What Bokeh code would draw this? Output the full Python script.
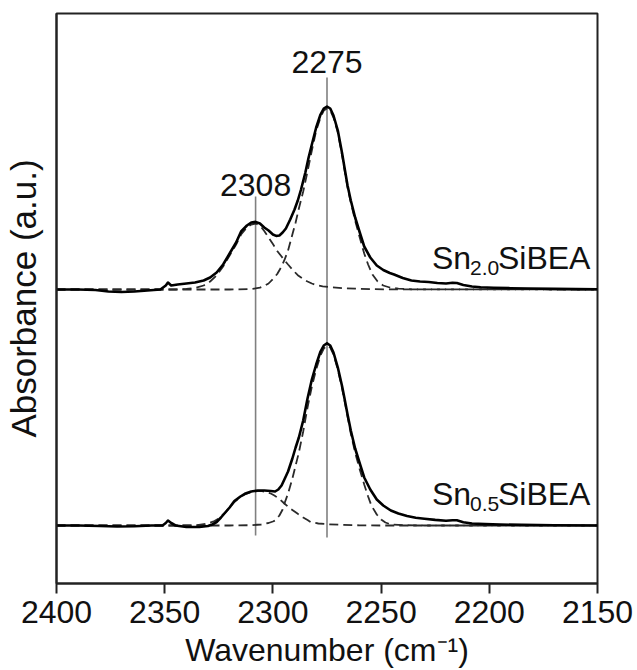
from bokeh.plotting import figure
from bokeh.models import Range1d, FixedTicker, Label
from bokeh.embed import file_html
from bokeh.resources import INLINE

# ---------------- data (absorbance, arbitrary units) ----------------
# Sn2.0SiBEA measured spectrum (height above its baseline)
wn_s20 = [2400, 2390, 2382, 2376, 2370, 2364, 2358, 2352, 2349.5, 2348.5, 2347, 2344, 2340, 2336, 2332,
          2329, 2326, 2323, 2320, 2317, 2314.7, 2312, 2310, 2308, 2306, 2304, 2302, 2300, 2298.5, 2297,
          2295.5, 2294, 2292, 2290, 2288.5, 2287, 2285, 2283.5, 2282, 2280, 2278, 2276.5, 2275, 2273.5,
          2272, 2270, 2268, 2267, 2265.5, 2264, 2262, 2260, 2257.8, 2255, 2252, 2249, 2246, 2244, 2240,
          2236, 2232, 2228, 2224, 2220, 2217, 2215, 2212, 2208, 2204, 2198, 2190, 2182, 2170, 2160, 2150]
ab_s20 = [0, 0, -0.5, -2, -2.5, -2, -1, 0, 4, 7, 4, 5, 6, 7, 9,
          12, 17, 25, 36, 47, 58, 64, 67, 67.6, 66, 62, 59, 55, 53.6, 54,
          57, 61, 70, 80, 89, 100, 117, 132, 145, 162, 175, 181, 183, 181,
          174, 159, 136, 123, 104, 89, 72, 58, 43, 32, 24, 19.5, 16.5, 15, 11.5,
          9, 8, 7.5, 6.5, 6, 6.8, 6.5, 4.5, 3, 2.2, 1.8, 1.3, 1, 0.6, 0.4, 0.3]

# Sn2.0SiBEA fitted component at 2275
wn_s20_a = [2400, 2320, 2310, 2306, 2304, 2302, 2300, 2298, 2296, 2294.7, 2293, 2291, 2289.5, 2288, 2286,
            2284, 2282, 2280, 2278, 2276.5, 2275, 2273.5, 2272, 2270, 2268, 2267, 2265.5, 2264, 2262,
            2260, 2257.8, 2256, 2254, 2251.6, 2249, 2246, 2242, 2236, 2150]
ab_s20_a = [0, 0, 0.5, 1.8, 3.5, 6, 10.5, 15.5, 23, 29.3, 39, 55, 67, 81, 98,
            118, 139, 159, 172, 179, 181, 179, 172, 157, 134, 121, 102, 87, 69,
            53, 36, 25, 15, 8, 4, 2, 0.8, 0.2, 0]

# Sn2.0SiBEA fitted component at 2308
wn_s20_b = [2400, 2345, 2340, 2336, 2332, 2329, 2326, 2323, 2320, 2317, 2314.7, 2312, 2310, 2308, 2306,
            2304, 2302, 2300, 2298, 2296, 2294.7, 2293, 2291, 2288.5, 2286, 2284, 2282, 2280, 2277,
            2273, 2268, 2262, 2255, 2245, 2150]
ab_s20_b = [0, 0, 0.5, 1.5, 4, 8, 14, 23, 34, 45, 55, 62, 65, 66, 64,
            58.5, 52, 45.5, 38.5, 33, 29.3, 25, 20, 14.3, 10.5, 8, 6, 4.5, 3.2,
            2.2, 1.4, 0.8, 0.4, 0.1, 0]

# Sn0.5SiBEA measured spectrum
wn_s05 = [2400, 2390, 2380, 2372, 2364, 2356, 2351, 2349.5, 2348.5, 2347, 2345, 2340, 2334, 2330, 2328,
          2326, 2324, 2322, 2320, 2317.8, 2315, 2313, 2310, 2307, 2304, 2301, 2299, 2297.5, 2296, 2294.7,
          2293, 2291, 2289.5, 2288, 2286, 2284, 2282, 2280, 2278, 2276.5, 2275, 2273.5, 2272, 2270,
          2268, 2267, 2265.5, 2264, 2262, 2260, 2257.8, 2255, 2252, 2249, 2245.5, 2242, 2238, 2234,
          2230, 2225, 2220, 2217, 2215, 2212, 2208, 2202, 2195, 2185, 2170, 2150]
ab_s05 = [0, 0, -0.5, -1, -0.8, 0, 0, 2.5, 5, 2.5, 0, -1.5, -1.5, -0.5, 1,
          3.5, 8, 13, 18, 24.5, 29, 31.7, 34, 35, 35, 34.5, 34, 36, 40, 46,
          54, 67, 78, 88, 105, 127, 146, 161, 174, 180, 182.3, 180, 173, 158,
          139, 128, 111, 95, 77, 63, 48, 36, 26, 20, 15, 12, 9.5, 7.8,
          6.8, 5.6, 4.8, 5.3, 5.2, 3.3, 2, 1.4, 1, 0.6, 0.3, 0]

# Sn0.5SiBEA fitted component at 2275
wn_s05_a = [2400, 2320, 2310, 2305.4, 2302, 2300, 2299, 2297, 2295.5, 2294.7, 2293, 2291, 2289.5, 2288,
            2286, 2284, 2282, 2280, 2278, 2276.5, 2275, 2273.5, 2272, 2270, 2268, 2267, 2265.5, 2264,
            2262, 2260, 2257.8, 2256, 2254.5, 2252, 2250, 2248, 2245.5, 2240, 2230, 2150]
ab_s05_a = [0, 0, 0.3, 1, 2.5, 4, 5, 10, 16, 21.7, 32, 47, 60, 73,
            94, 118, 139, 156, 170, 177, 180, 178, 171, 156, 137, 126, 109, 92,
            73, 57, 41, 29, 20, 11, 6, 3, 1, 0.3, 0, 0]

# Sn0.5SiBEA fitted component at 2308
wn_s05_b = [2400, 2340, 2335, 2330, 2327, 2325, 2322, 2320, 2317.8, 2315, 2313, 2310, 2307, 2305, 2303,
            2301, 2299.3, 2297, 2294.7, 2292, 2290, 2288.5, 2286, 2284, 2282.4, 2279, 2274, 2268,
            2260, 2250, 2150]
ab_s05_b = [0, 0, 0.3, 2, 4.5, 7, 13, 18, 23.5, 28.5, 31, 33.5, 34.5, 34.3, 33.5,
            32, 30, 26.5, 22, 17, 14, 11.7, 8, 5.5, 3.3, 2, 1.2, 0.6,
            0.2, 0, 0]

# vertical offsets of the stacked spectra
offset_s20 = 294
offset_s05 = 58

# band positions marked in the figure
band_pos = [2308, 2275]
band_text = ["2308", "2275"]
band_line_top = [387, 506]
band_line_bottom = [48, 46]
band_text_y = [399, 522]

x_ticks = [2400, 2350, 2300, 2250, 2200, 2150]

FONT = "Liberation Sans"

p = figure(width=637, height=670, output_backend="svg", toolbar_location=None,
           x_range=Range1d(2400, 2150), y_range=Range1d(0, 570),
           min_border_left=55, min_border_right=40, min_border_top=13, min_border_bottom=87)

p.background_fill_color = "white"
p.border_fill_color = "white"
p.outline_line_color = "#222222"
p.outline_line_width = 2
p.xgrid.visible = False
p.ygrid.visible = False

# x axis
p.xaxis.ticker = FixedTicker(ticks=x_ticks)
p.xaxis.minor_tick_line_color = None
p.xaxis.major_tick_in = 0
p.xaxis.major_tick_out = 10
p.xaxis.major_tick_line_width = 2
p.xaxis.major_tick_line_color = "#222222"
p.xaxis.axis_line_width = 2
p.xaxis.axis_line_color = "#222222"
p.xaxis.major_label_text_font = FONT
p.xaxis.major_label_text_font_size = "32px"
p.xaxis.major_label_text_color = "#111111"
p.xaxis.major_label_standoff = 7
p.xaxis.axis_label = "Wavenumber (cm\u207b\u00b9)"
p.xaxis.axis_label_text_font = FONT
p.xaxis.axis_label_text_font_size = "32px"
p.xaxis.axis_label_text_font_style = "normal"
p.xaxis.axis_label_text_color = "#111111"
p.xaxis.axis_label_standoff = 6

# y axis: no ticks, only the title
p.yaxis.ticker = FixedTicker(ticks=[])
p.yaxis.minor_tick_line_color = None
p.yaxis.major_tick_out = 0
p.yaxis.major_tick_in = 0
p.yaxis.major_label_text_font_size = "0px"
p.yaxis.axis_line_width = 2
p.yaxis.axis_line_color = "#222222"
p.yaxis.axis_label = "Absorbance (a.u.)"
p.yaxis.axis_label_text_font = FONT
p.yaxis.axis_label_text_font_size = "35px"
p.yaxis.axis_label_text_font_style = "normal"
p.yaxis.axis_label_text_color = "#111111"
p.yaxis.axis_label_standoff = 14

# band marker lines
p.segment(x0=band_pos, y0=band_line_bottom, x1=band_pos, y1=band_line_top,
          line_color="#808080", line_width=1.6)

dash_kw = dict(line_color="#2a2a2a", line_width=1.8, line_dash="9 5")
p.line(wn_s20_a, [v + offset_s20 for v in ab_s20_a], **dash_kw)
p.line(wn_s20_b, [v + offset_s20 for v in ab_s20_b], **dash_kw)
p.line(wn_s05_a, [v + offset_s05 for v in ab_s05_a], **dash_kw)
p.line(wn_s05_b, [v + offset_s05 for v in ab_s05_b], **dash_kw)

solid_kw = dict(line_color="black", line_width=2.6, line_join="round")
p.line(wn_s20, [v + offset_s20 for v in ab_s20], **solid_kw)
p.line(wn_s05, [v + offset_s05 for v in ab_s05], **solid_kw)

for xp, t, ty in zip(band_pos, band_text, band_text_y):
    p.add_layout(Label(x=xp, y=ty, text=t, text_align="center", text_baseline="alphabetic",
                       text_font=FONT, text_font_size="32px", text_color="#111111"))

# sample labels with subscripts
sample_x = 2226.5
for sub, base_y in [("2.0", offset_s20 + 32), ("0.5", offset_s05 + 32)]:
    p.add_layout(Label(x=sample_x, y=base_y, text="Sn", text_align="left", text_baseline="alphabetic",
                       text_font=FONT, text_font_size="32px", text_color="#111111"))
    p.add_layout(Label(x=sample_x, y=base_y, x_offset=38, y_offset=-10, text=sub, text_align="left",
                       text_baseline="alphabetic", text_font=FONT, text_font_size="21px",
                       text_color="#111111"))
    p.add_layout(Label(x=sample_x, y=base_y, x_offset=66, text="SiBEA", text_align="left",
                       text_baseline="alphabetic", text_font=FONT, text_font_size="32px",
                       text_color="#111111"))

open("out.html", "w").write(file_html(p, INLINE))
